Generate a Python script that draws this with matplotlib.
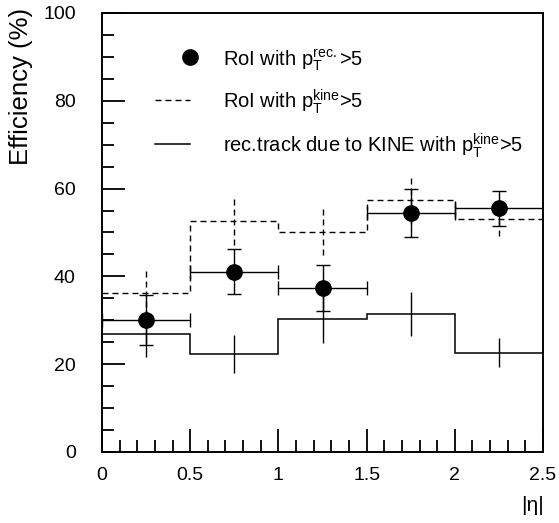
import numpy as np
import matplotlib
matplotlib.use("Agg")
import matplotlib.pyplot as plt
from matplotlib.ticker import MultipleLocator

plt.rcParams["font.family"] = ["Liberation Sans", "DejaVu Sans"]
plt.rcParams["mathtext.fontset"] = "custom"
plt.rcParams["mathtext.rm"] = "Liberation Sans"
plt.rcParams["mathtext.it"] = "Liberation Sans:italic"

# |eta| bins
edges = [0, 0.5, 1.0, 1.5, 2.0, 2.5]
x_ticks = [0, 0.5, 1, 1.5, 2, 2.5]
x_ticklabels = ["0", "0.5", "1", "1.5", "2", "2.5"]
y_ticks = [0, 20, 40, 60, 80, 100]

# RoI with pT(rec.) > 5  (points)
roi_rec = [30.1, 41.1, 37.3, 54.4, 55.5]
roi_rec_err = [5.7, 5.1, 5.2, 5.4, 4.0]

# RoI with pT(kine) > 5  (dashed histogram)
roi_kine = [36.1, 52.5, 50.2, 57.4, 53.1]
roi_kine_err = [5.3, 5.4, 5.4, 5.4, 3.9]

# rec.track due to KINE with pT(kine) > 5  (solid histogram)
track = [26.9, 22.3, 30.3, 31.4, 22.6]
track_err = [5.2, 4.4, 5.5, 5.0, 3.3]

labels = [r"RoI with $\mathregular{p_T^{rec.}}$>5",
          r"RoI with $\mathregular{p_T^{kine}}$>5",
          r"rec.track due to KINE with $\mathregular{p_T^{kine}}$>5"]

edges_a = np.array(edges)
centers = (edges_a[:-1] + edges_a[1:]) / 2
half_w = np.diff(edges_a) / 2
dash = (0, (4.3, 2.9))

fig = plt.figure(figsize=(5.59, 5.23), dpi=100)
ax = fig.add_axes([0.1825, 0.1358, 0.7889, 0.8394])

# histograms
ax.stairs(roi_kine, edges, baseline=None, color="k", lw=1.0, linestyle=dash)
ax.vlines(centers, np.array(roi_kine) - roi_kine_err, np.array(roi_kine) + roi_kine_err,
          colors="k", lw=1.0, linestyles=[dash])
ax.stairs(track, edges, baseline=None, color="k", lw=1.1)
ax.vlines(centers, np.array(track) - track_err, np.array(track) + track_err,
          colors="k", lw=1.0)

# points
ax.errorbar(centers, roi_rec, xerr=half_w, yerr=roi_rec_err, fmt="o", ms=11,
            color="k", ecolor="k", elinewidth=1.0, capsize=5, capthick=1.0, zorder=5)

ax.set_xlim(0, 2.5)
ax.set_ylim(0, 100)
ax.set_xticks(x_ticks)
ax.set_xticklabels(x_ticklabels)
ax.set_yticks(y_ticks)
ax.xaxis.set_minor_locator(MultipleLocator(0.1))
ax.yaxis.set_minor_locator(MultipleLocator(5))
ax.tick_params(which="both", direction="in", top=False, right=False, width=1.3,
               labelsize=14)
ax.tick_params(which="major", length=16.5)
ax.tick_params(which="minor", length=8.6)
ax.tick_params(axis="y", pad=19)
ax.tick_params(axis="x", pad=11)
for s in ax.spines.values():
    s.set_linewidth(1.4)

# legend (no frame, ROOT style)
tr = ax.transAxes
leg_y = [0.881, 0.783, 0.684]
ax.plot([0.1995], [leg_y[0] + 0.018], "o", ms=11, color="k", transform=tr, clip_on=False)
ax.plot([0.12, 0.1995], [leg_y[1] + 0.018] * 2, color="k", lw=1.0, linestyle=dash, transform=tr)
ax.plot([0.12, 0.1995], [leg_y[2] + 0.018] * 2, color="k", lw=1.1, transform=tr)
for lab, yy in zip(labels, leg_y):
    ax.text(0.274, yy, lab, transform=tr, fontsize=14.5, va="baseline", ha="left")

fig.text(0.038, 0.985, "Efficiency (%)", rotation=90, ha="center", va="top", fontsize=18.5)
fig.text(0.953, 0.034, "|η|", ha="center", va="center", fontsize=15)

fig.savefig("out.png", dpi=100)
